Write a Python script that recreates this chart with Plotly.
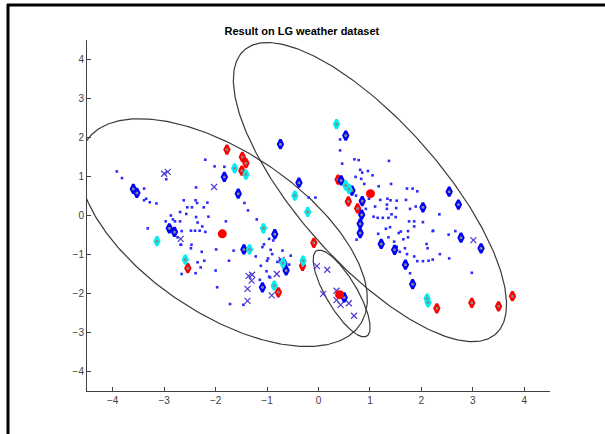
import numpy as np
import plotly.graph_objects as go

title_text = "Result on LG weather dataset"
x_ticks = [-4, -3, -2, -1, 0, 1, 2, 3, 4]
y_ticks = [-4, -3, -2, -1, 0, 1, 2, 3, 4]

# small blue sample points
dots_x = [-3.92, -3.82, -2.96, -3.39, -3.39, -3.35, -3.28, -3.15, -2.2, -2.38, -2.62, -2.39, -2.36, -2.16,
          -2.55, -2.46, -2.23, -2.69, -2.57, -2.87, -2.38, -2.83, -2.79, -2.69, -2.97, -2.35, -2.26, -3.32,
          -2.66, -2.48, -2.4, -2.31, -2.2, -2.74, -2.68, -2.48, -2.27, -2.35, -2.22, -2.29, -2.39,
          -2.02, -1.83, -1.44, -1.37, -2.14, -1.8, -1.2, -0.96, -0.88, -1.06, -1.99, -1.22, -0.93, -0.9,
          -0.98, -0.7, -0.8, -0.57, -1.74, -1.12, -2.0, -1.01, -1.72, -1.46, -1.97, -1.14, -0.94,
          -2.67, -2.47, -1.65, -2.66, -1.09, -1.0, -0.75, -0.54, -0.96, -0.19, -0.06,
          0.42, 0.42, 0.46, 0.7, 0.78, 1.37, 0.81, 0.85, 0.96, 1.05, 0.72, 0.83, 0.89, 1.17, 1.41, 1.72,
          1.83, 1.92, 0.73, 0.98, 1.2, 1.34, 1.4, 1.52, 1.7, 1.33, 1.1, 0.92, 1.78, 1.89, 1.42, 1.07,
          1.15, 1.25, 1.36, 1.5, 1.76, 1.86, 2.03, 1.31, 1.39, 1.6, 1.74, 1.86, 2.23, 1.16, 1.36, 1.47,
          1.56, 1.65, 1.74, 2.1, 2.12, 0.74, 1.52, 1.58, 1.68, 1.72, 1.86, 1.92, 2.03, 2.14, 1.78,
          2.35, 2.22, 2.53, 2.66, 2.36, 2.54, 2.22, 2.98, 1.51, 1.33]
dots_y = [1.13, 0.96, 0.93, 0.69, 0.39, 0.43, 0.34, 0.31, 1.43, 0.72, 0.39, 0.39, 0.32, 0.33,
          0.21, 0.21, 0.21, 0.09, 0.04, 0.0, -0.04, -0.10, -0.15, -0.15, -0.15, -0.18, -0.28, -0.33,
          -0.40, -0.39, -0.39, -0.39, -0.42, -0.56, -0.75, -0.84, -0.93, -1.2, -1.16, -1.33, -1.48,
          1.26, 1.25, 0.32, 0.13, -0.03, -0.15, -0.1, -0.6, -0.64, -0.74, -0.87, -1.05, -0.88, -0.99,
          -1.1, -0.9, -1.19, -1.26, -1.16, -1.29, -1.41, -1.43, -2.27, -2.29, -1.84, -1.65, -1.59,
          -0.75, -0.75, -0.9, -1.5, -0.81, -1.16, -1.14, -1.03, -1.57, 0.46, 0.46,
          1.95, 1.67, 1.33, 1.44, 1.42, 1.4, 1.17, 1.1, 1.14, 1.03, 0.99, 0.94, 0.81, 0.75, 0.81, 0.69,
          0.69, 0.62, 0.51, 0.43, 0.4, 0.43, 0.39, 0.38, 0.4, 0.28, 0.23, 0.17, 0.17, 0.23, 0.03, -0.03,
          -0.06, -0.06, -0.06, -0.04, -0.15, -0.15, -0.17, -0.34, -0.3, -0.41, -0.4, -0.28, -0.39, -0.47, -0.56, -0.67,
          -0.45, -0.61, -0.56, -0.73, -0.84, -0.62, -0.8, -0.93, -0.84, -0.99, -1.05, -1.17, -1.17, -1.16, -1.48,
          0.03, -0.4, -0.49, -0.4, -0.99, -1.1, -1.13, -1.47, 0.19, 0.17]

# cross-marked samples
cross_x = [-3.0, -2.93, -2.68, -2.03, -0.72, -0.81, -1.36, -1.29, -1.3, -1.38, -0.91, -1.38,
           -0.03, 0.17, 0.09, 0.35, 0.43, 0.59, 0.69, 0.35, 3.01]
cross_y = [1.07, 1.12, -0.6, 0.73, -1.14, -1.5, -1.55, -1.52, -1.67, -1.88, -2.05, -2.19,
           -1.3, -1.39, -2.01, -1.93, -2.29, -2.25, -2.57, -2.17, -0.63]

# diamond-marked samples by group
blue_dia_x = [-3.6, -3.53, -2.9, -2.8, -0.74, -1.83, -1.56, -0.38, -0.85, -1.45, -0.67, -0.63, -1.09,
              0.53, 0.44, 0.65, 0.85, 0.84, 0.81, 0.81, 2.03, 1.22, 1.48, 1.69, 1.83, 2.54, 2.72, 2.77, 3.16, 0.5]
blue_dia_y = [0.68, 0.58, -0.33, -0.42, 1.83, 0.99, 0.56, 0.84, -0.48, -0.87, -1.24, -1.41, -1.84,
              2.05, 0.9, 0.64, 0.37, 0.02, -0.21, -0.45, 0.21, -0.73, -0.88, -1.26, -1.76, 0.61, 0.28, -0.57, -0.84, -2.1]
red_dia_x = [-1.78, -1.48, -1.41, -1.49, -2.54, -0.09, -0.31, -0.78, 0.38, 0.58, 0.76, 2.3, 2.98, 3.5, 3.77]
red_dia_y = [1.69, 1.5, 1.34, 1.15, -1.35, -0.7, -1.29, -1.97, 0.92, 0.36, 0.18, -2.38, -2.24, -2.33, -2.07]
cyan_dia_x = [-3.14, -2.59, -1.63, -1.41, -0.46, -0.21, -1.07, -1.34, -0.69, -0.3, -0.86, 0.35, 0.53, 0.59, 2.11, 2.13]
cyan_dia_y = [-0.66, -1.13, 1.21, 1.05, 0.51, 0.09, -0.33, -0.87, -1.22, -1.16, -1.8, 2.34, 0.77, 0.68, -2.13, -2.23]

# cluster centres
centre_x = [-1.87, 1.01, 0.41]
centre_y = [-0.47, 0.56, -2.03]

# ellipse parameters: centre and covariance-like shape matrix [[sxx, sxy], [sxy, syy]]
ell_cx = [-1.85, 1.0, 0.45]
ell_cy = [-0.44, 0.6, -2.0]
ell_sxx = [7.84, 7.05, 0.307]
ell_syy = [8.53, 14.7, 1.237]
ell_sxy = [-4.76, -7.65, -0.482]

fig = go.Figure()

t = np.linspace(0, 2 * np.pi, 361)
circle = np.vstack([np.cos(t), np.sin(t)])
for cx, cy, sxx, syy, sxy in zip(ell_cx, ell_cy, ell_sxx, ell_syy, ell_sxy):
    S = np.array([[sxx, sxy], [sxy, syy]])
    vals, vecs = np.linalg.eigh(S)
    pts = vecs @ np.diag(np.sqrt(vals)) @ circle
    fig.add_trace(go.Scatter(x=cx + pts[0], y=cy + pts[1], mode="lines",
                             line=dict(color="#3a3a3a", width=1.2),
                             showlegend=False, hoverinfo="skip"))

fig.add_trace(go.Scatter(x=dots_x, y=dots_y, mode="markers",
                         marker=dict(symbol="square", size=2.6, color="#2a2aff", line=dict(width=0)),
                         showlegend=False))
fig.add_trace(go.Scatter(x=cross_x, y=cross_y, mode="markers",
                         marker=dict(symbol="x-thin-open", size=6, color="#4a3ad0",
                                     line=dict(width=1.2, color="#4a3ad0")),
                         showlegend=False))

for xs, ys, col in [(red_dia_x, red_dia_y, "#ff0000"), (blue_dia_x, blue_dia_y, "#0000ff"),
                    (cyan_dia_x, cyan_dia_y, "#00f0f0")]:
    fig.add_trace(go.Scatter(x=xs, y=ys, mode="markers",
                             marker=dict(symbol="diamond-tall", size=6.5, color=col,
                                         line=dict(width=2.6, color=col)),
                             showlegend=False))
    fig.add_trace(go.Scatter(x=xs, y=ys, mode="markers",
                             marker=dict(symbol="circle", size=3, color="#8a8a8a", line=dict(width=0)),
                             showlegend=False))

fig.add_trace(go.Scatter(x=centre_x, y=centre_y, mode="markers",
                         marker=dict(symbol="circle", size=9, color="#ff0000", line=dict(width=0)),
                         showlegend=False))

L, R, T, B = 87, 55, 40, 43
W, H = 605, 434
pw, ph = W - L - R, H - T - B


def px(v):
    return (v - L) / pw


def py(v):
    return (H - B - v) / ph


fig.update_layout(
    width=W, height=H,
    margin=dict(l=L, r=R, t=T, b=B),
    paper_bgcolor="white", plot_bgcolor="white",
    title=dict(text="<b>" + title_text + "</b>", x=px(318), xanchor="center",
               y=1 - 31 / H, yanchor="middle",
               font=dict(family="Liberation Sans, Arial, sans-serif", size=11, color="#000000")),
    font=dict(family="Liberation Sans, Arial, sans-serif", size=10, color="#404040"),
    xaxis=dict(range=[-4.5, 4.5], tickvals=x_ticks, ticks="inside", ticklen=4, tickcolor="#404040",
               showline=True, linecolor="#404040", linewidth=1, showgrid=False, zeroline=False,
               tickfont=dict(size=10, color="#404040")),
    yaxis=dict(range=[-4.5, 4.5], tickvals=y_ticks, ticks="inside", ticklen=4, tickcolor="#404040",
               showline=True, linecolor="#404040", linewidth=1, showgrid=False, zeroline=False,
               tickfont=dict(size=10, color="#404040")),
    shapes=[
        dict(type="line", xref="paper", yref="paper", x0=px(7), x1=px(605), y0=py(5), y1=py(5),
             line=dict(color="black", width=3)),
        dict(type="line", xref="paper", yref="paper", x0=px(8), x1=px(8), y0=py(4), y1=py(434),
             line=dict(color="black", width=3)),
    ],
)

fig.write_html("out.html")
